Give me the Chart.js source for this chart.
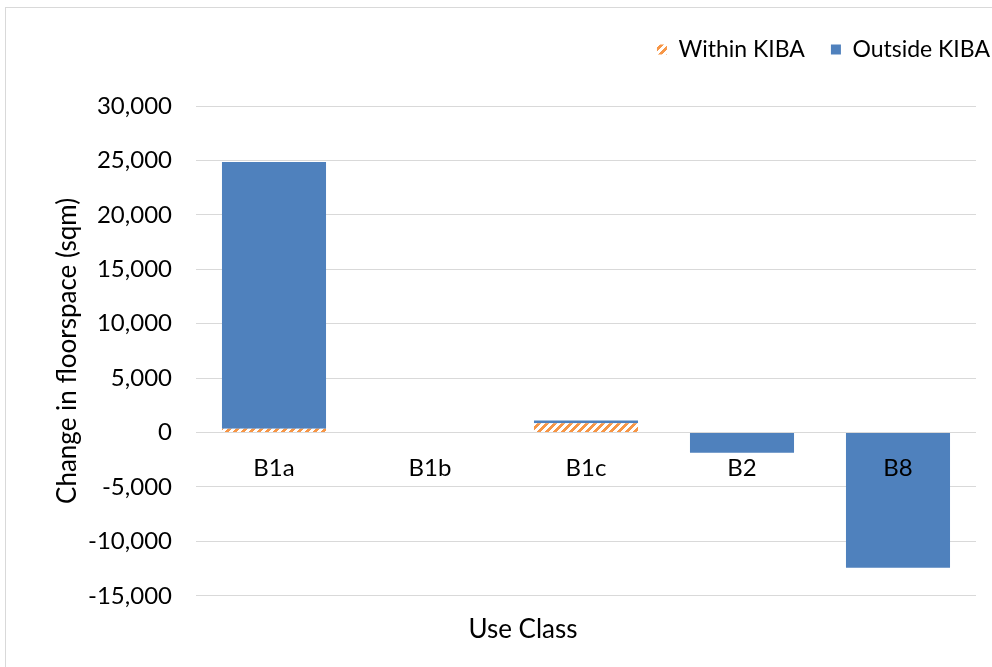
<!DOCTYPE html>
<html>
<head>
<meta charset="utf-8">
<script src="https://cdn.jsdelivr.net/npm/chart.js@4"></script>
<style>
  html, body { margin: 0; padding: 0; background: #fff; }
  #wrap { position: relative; width: 992px; height: 667px; overflow: hidden; }
  #frame { position: absolute; left: 5px; top: 7px; width: 1000px; height: 700px;
           border-left: 1px solid #d9d9d9; border-top: 1px solid #d9d9d9; }
  #chart { position: absolute; left: 0; top: 0; }
</style>
</head>
<body>
<div id="wrap">
  <div id="frame"></div>
  <canvas id="chart" width="992" height="667"></canvas>
</div>
<script>
// data
const categories = ['B1a', 'B1b', 'B1c', 'B2', 'B8'];
const withinKiba = [350, 0, 850, 0, 0];
const outsideKiba = [24500, 0, 250, -1850, -12420];
const yMin = -15000, yMax = 30000, yStep = 5000;

const fontFamily = 'Lato, "Open Sans", sans-serif';
const textColor = '#000';
const blue = '#4f81bd';

// orange "wide upward diagonal" hatch
function makeHatch() {
  const c = document.createElement('canvas');
  c.width = 8; c.height = 8;
  const g = c.getContext('2d');
  const img = g.createImageData(8, 8);
  for (let y = 0; y < 8; y++) {
    for (let x = 0; x < 8; x++) {
      const i = (y * 8 + x) * 4;
      const on = ((x + y) % 8) < 4;
      img.data[i] = on ? 0xf7 : 255;
      img.data[i + 1] = on ? 0x96 : 255;
      img.data[i + 2] = on ? 0x46 : 255;
      img.data[i + 3] = 255;
    }
  }
  g.putImageData(img, 0, 0);
  return document.getElementById('chart').getContext('2d').createPattern(c, 'repeat');
}

// push the plot area down below the legend
const legendSpacer = {
  id: 'legendSpacer',
  beforeInit(chart) {
    const fit = chart.legend.fit;
    chart.legend.fit = function () {
      fit.call(this);
      this.height += 35;
    };
  }
};

const ctx = document.getElementById('chart').getContext('2d');
new Chart(ctx, {
  type: 'bar',
  data: {
    labels: categories,
    datasets: [
      {
        label: 'Within KIBA',
        data: withinKiba,
        backgroundColor: makeHatch(),
        borderWidth: 0
      },
      {
        label: 'Outside KIBA',
        data: outsideKiba,
        backgroundColor: blue,
        borderWidth: 0
      }
    ]
  },
  options: {
    responsive: false,
    animation: false,
    layout: { padding: { left: 30, right: -24, top: 12, bottom: 0 } },
    datasets: { bar: { categoryPercentage: 1, barPercentage: 0.667 } },
    plugins: {
      tooltip: { enabled: false },
      legend: {
        position: 'top',
        align: 'end',
        labels: {
          boxWidth: 10,
          boxHeight: 10,
          padding: 26,
          color: textColor,
          font: { family: fontFamily, size: 23 }
        }
      },
      title: {
        display: true,
        position: 'bottom',
        text: 'Use Class',
        color: textColor,
        font: { family: fontFamily, size: 26, weight: 'normal' },
        padding: { top: 18, bottom: 22 }
      }
    },
    scales: {
      x: {
        stacked: true,
        position: { y: 0 },
        grid: { display: false },
        border: { display: false },
        ticks: { z: 1, color: textColor, padding: 13, font: { family: fontFamily, size: 24 } }
      },
      y: {
        stacked: true,
        min: yMin,
        max: yMax,
        afterFit(s) { s.width = 166; },
        grid: { color: '#d9d9d9', lineWidth: 1, drawTicks: false },
        border: { display: false },
        ticks: {
          stepSize: yStep,
          padding: 24,
          color: textColor,
          font: { family: fontFamily, size: 24 },
          callback: v => v.toLocaleString('en-US')
        },
        title: {
          display: true,
          text: 'Change in floorspace (sqm)',
          color: textColor,
          font: { family: fontFamily, size: 26 },
          padding: { top: 22, bottom: 0 }
        }
      },
      yR: {
        position: 'right',
        display: true,
        afterFit(s) { s.width = 40; },
        grid: { display: false },
        border: { display: false },
        ticks: { display: false }
      }
    }
  },
  plugins: [legendSpacer]
});
</script>
</body>
</html>
